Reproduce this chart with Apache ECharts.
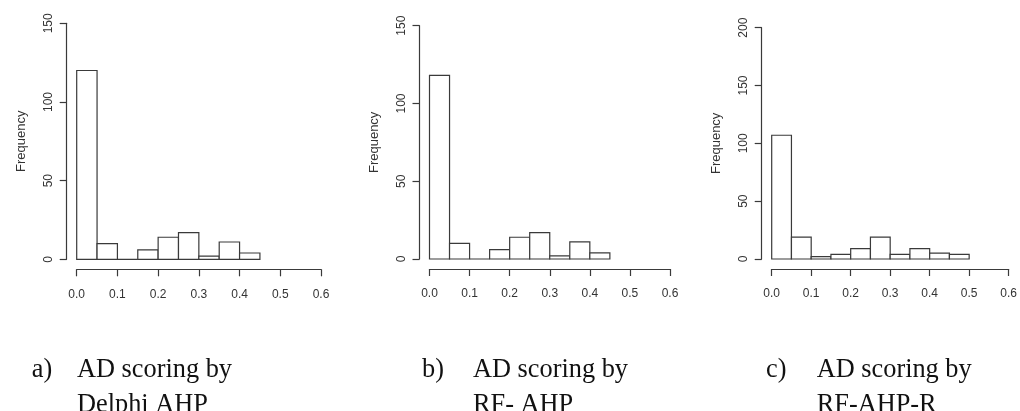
<!DOCTYPE html>
<html>
<head>
<meta charset="utf-8">
<script src="https://cdn.jsdelivr.net/npm/echarts@6/dist/echarts.min.js"></script>
<style>
html,body{margin:0;padding:0;background:#fff;}
#chart{width:1020px;height:411px;}
</style>
</head>
<body>
<div id="chart"></div>
<script>
// ---- data ----
const binBreaks = [0.00, 0.05, 0.10, 0.15, 0.20, 0.25, 0.30, 0.35, 0.40, 0.45, 0.50];
const countsDelphiAHP = [120, 10, 0, 6, 14, 17, 2, 11, 4];
const countsRFAHP = [118, 10, 0, 6, 14, 17, 2, 11, 4];
const countsRFAHPR = [107, 19, 2, 4, 9, 19, 4, 9, 5, 4];
const xTicks = [0.0, 0.1, 0.2, 0.3, 0.4, 0.5, 0.6];
const yMaxes = [150, 150, 200];
const yAxisTitle = 'Frequency';
const captionLetters = ['a)', 'b)', 'c)'];
const captionLines = [
  ['AD scoring by', 'Delphi AHP'],
  ['AD scoring by', 'RF- AHP'],
  ['AD scoring by', 'RF-AHP-R']
];

const allCounts = [countsDelphiAHP, countsRFAHP, countsRFAHPR];

// ---- layout ----
const grids = [
  {left: 76.7, top: 23.3, width: 244.3, height: 236},
  {left: 429.5, top: 25.7, width: 240.5, height: 233.3},
  {left: 771.7, top: 27.7, width: 239.3, height: 231.3}
];
const lineColor = '#3a3a3a';
const textColor = '#333';

function binData(counts) {
  return counts.map((c, i) => [binBreaks[i], binBreaks[i + 1], c]);
}

const option = {
  backgroundColor: '#fff',
  animation: false,
  grid: grids.map(g => Object.assign({containLabel: false}, g)),
  xAxis: grids.map((g, i) => ({
    gridIndex: i,
    type: 'value',
    min: xTicks[0],
    max: xTicks[xTicks.length - 1],
    interval: 0.1,
    offset: 10,
    axisLine: {show: true, onZero: false, lineStyle: {color: lineColor, width: 1.2}},
    axisTick: {show: true, inside: false, length: 7, lineStyle: {color: lineColor, width: 1.2}},
    splitLine: {show: false},
    axisLabel: {
      color: textColor, fontFamily: 'Liberation Sans', fontSize: 12, margin: 19,
      formatter: v => v.toFixed(1)
    }
  })),
  yAxis: grids.map((g, i) => ({
    gridIndex: i,
    type: 'value',
    min: 0,
    max: yMaxes[i],
    interval: 50,
    offset: 10,
    name: yAxisTitle,
    nameLocation: 'middle',
    nameRotate: 90,
    nameGap: 39,
    nameTextStyle: {color: textColor, fontFamily: 'Liberation Sans', fontSize: 13},
    axisLine: {show: true, onZero: false, lineStyle: {color: lineColor, width: 1.2}},
    axisTick: {show: true, inside: false, length: 7, lineStyle: {color: lineColor, width: 1.2}},
    splitLine: {show: false},
    axisLabel: {
      color: textColor, fontFamily: 'Liberation Sans', fontSize: 12, margin: 12,
      rotate: 90
    }
  })),
  series: allCounts.map((counts, i) => ({
    type: 'custom',
    xAxisIndex: i,
    yAxisIndex: i,
    clip: false,
    encode: {x: [0, 1], y: 2},
    data: binData(counts),
    renderItem: function (params, api) {
      const p0 = api.coord([api.value(0), 0]);
      const p1 = api.coord([api.value(1), api.value(2)]);
      return {
        type: 'rect',
        shape: {x: p0[0], y: p1[1], width: p1[0] - p0[0], height: p0[1] - p1[1]},
        style: {fill: '#fff', stroke: lineColor, lineWidth: 1.2}
      };
    }
  })),
  graphic: []
};

const capPos = [
  {lx: 31.7, tx: 77},
  {lx: 422, tx: 473},
  {lx: 766, tx: 816.7}
];
const capFont = {fontFamily: 'Liberation Serif', fontSize: 28, fill: '#111', verticalAlign: 'top'};
capPos.forEach((p, i) => {
  option.graphic.push({
    type: 'text', x: p.lx, y: 355.5, scaleX: 0.94,
    style: Object.assign({text: captionLetters[i]}, capFont)
  });
  captionLines[i].forEach((t, j) => {
    option.graphic.push({
      type: 'text', x: p.tx, y: 355.5 + j * 35, scaleX: 0.94,
      style: Object.assign({text: t}, capFont)
    });
  });
});

const chart = echarts.init(document.getElementById('chart'), null, {renderer: 'canvas'});
chart.setOption(option);
</script>
</body>
</html>
